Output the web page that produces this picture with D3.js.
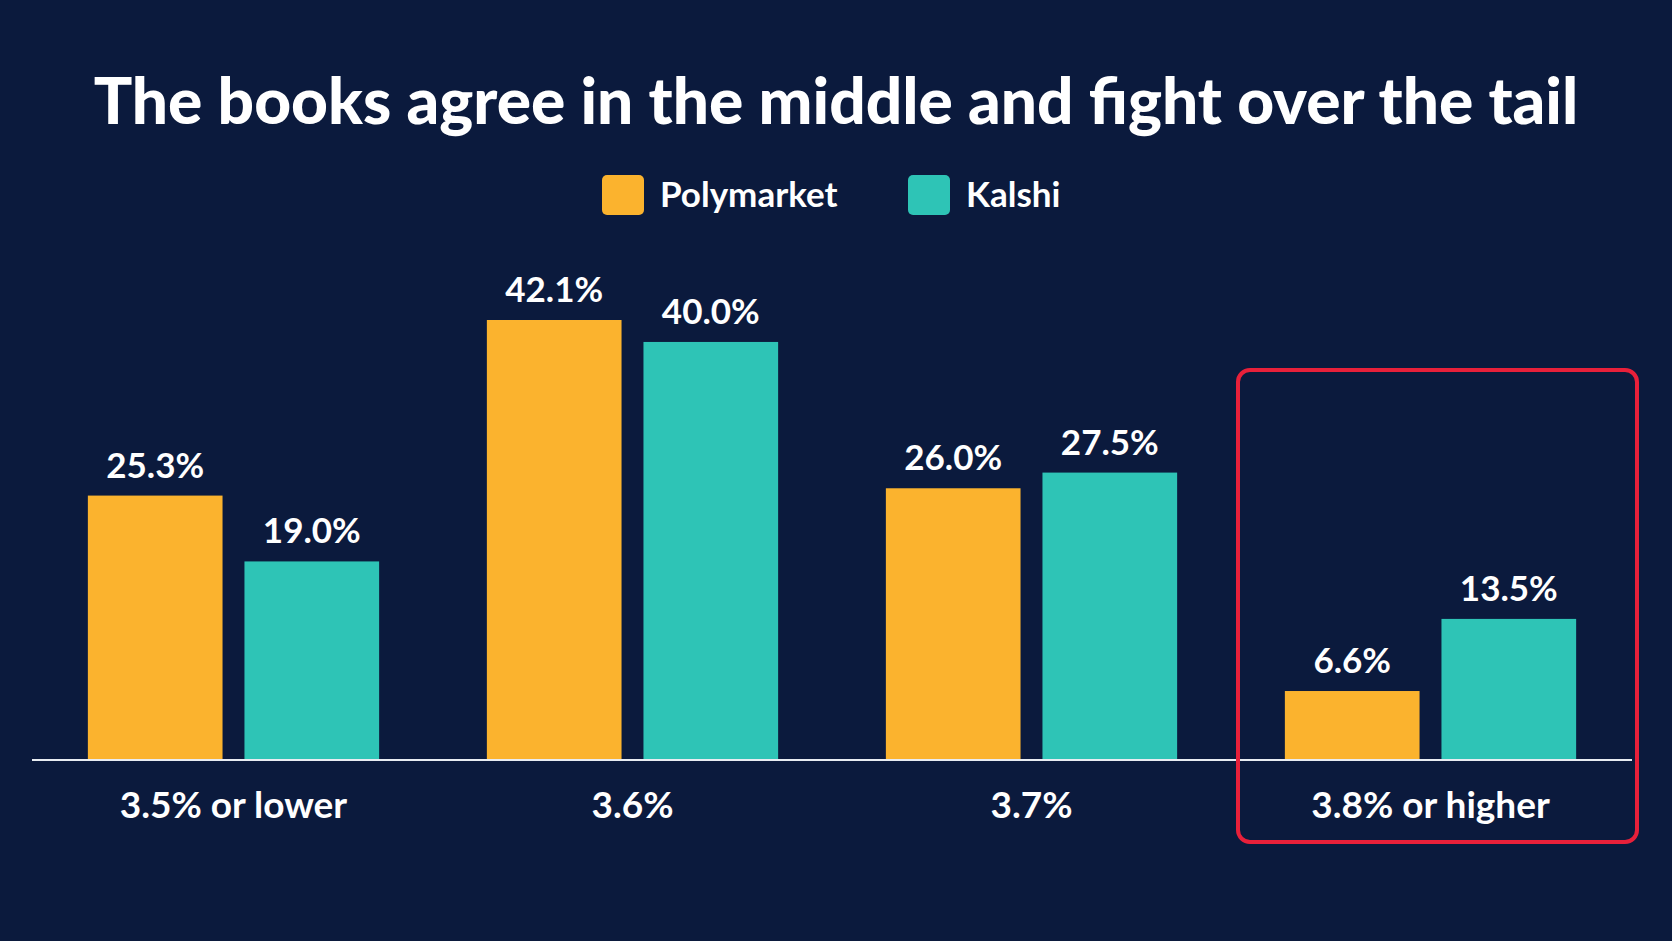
<!DOCTYPE html>
<html><head><meta charset="utf-8">
<script src="https://cdn.jsdelivr.net/npm/d3@7"></script>
<style>body{margin:0;background:#0b1a3d}svg{display:block}</style>
</head><body><svg id="c" width="1672" height="941"></svg>
<script>
const categories = ["3.5% or lower","3.6%","3.7%","3.8% or higher"];
const seriesNames = ["Polymarket","Kalshi"];
const polymarket = [25.3,42.1,26.0,6.6];
const kalshi = [19.0,40.0,27.5,13.5];
const colors = ["#fbb32e","#2ec4b6"];
const svg = d3.select("#c");
const W=1672,H=941, base=760, font="Lato, 'Open Sans', sans-serif";
svg.append("rect").attr("width",W).attr("height",H).attr("fill","#0b1a3d");
svg.append("text").attr("x",836).attr("y",124).attr("text-anchor","middle")
 .attr("fill","#fff").attr("font-family",font).attr("font-weight",900).attr("font-size",64)
 .text("The books agree in the middle and fight over the tail");
const lg=[{x:602,n:0},{x:908,n:1}];
lg.forEach(l=>{
 svg.append("rect").attr("x",l.x).attr("y",175).attr("width",42).attr("height",40).attr("rx",5).attr("fill",colors[l.n]);
 svg.append("text").attr("x",l.x+58).attr("y",207).attr("fill","#fff").attr("font-family",font)
  .attr("font-weight",700).attr("font-size",35).text(seriesNames[l.n]);
});
const x=d3.scaleBand().domain(categories).range([32,1632]).paddingInner(0.27).paddingOuter(0.14);
const xs=d3.scaleBand().domain([0,1]).range([0,x.bandwidth()]).paddingInner(0.14);
const y=d3.scaleLinear().domain([0,42.1]).range([base,320]);
const data=categories.map((c,i)=>[polymarket[i],kalshi[i]]);
categories.forEach((c,i)=>{
 data[i].forEach((v,j)=>{
  const bx=x(c)+xs(j);
  svg.append("rect").attr("x",bx).attr("y",y(v)).attr("width",xs.bandwidth()).attr("height",base-y(v)).attr("fill",colors[j]);
  svg.append("text").attr("x",bx+xs.bandwidth()/2).attr("y",y(v)-18).attr("text-anchor","middle")
   .attr("fill","#fff").attr("font-family",font).attr("font-weight",700).attr("font-size",35).text(v.toFixed(1)+"%");
 });
});
svg.append("line").attr("x1",32).attr("x2",1632).attr("y1",base).attr("y2",base).attr("stroke","#e8ecf2").attr("stroke-width",2);
const ax=svg.append("g").attr("transform",`translate(0,${base})`).call(d3.axisBottom(x).tickSize(0).tickPadding(32));
ax.select(".domain").remove();
ax.selectAll("text").attr("fill","#fff").attr("font-family",font).attr("font-weight",700).attr("font-size",37);
svg.append("rect").attr("x",1238).attr("y",370).attr("width",399).attr("height",472).attr("rx",12)
 .attr("fill","none").attr("stroke","#e8203a").attr("stroke-width",4);
</script></body></html>
